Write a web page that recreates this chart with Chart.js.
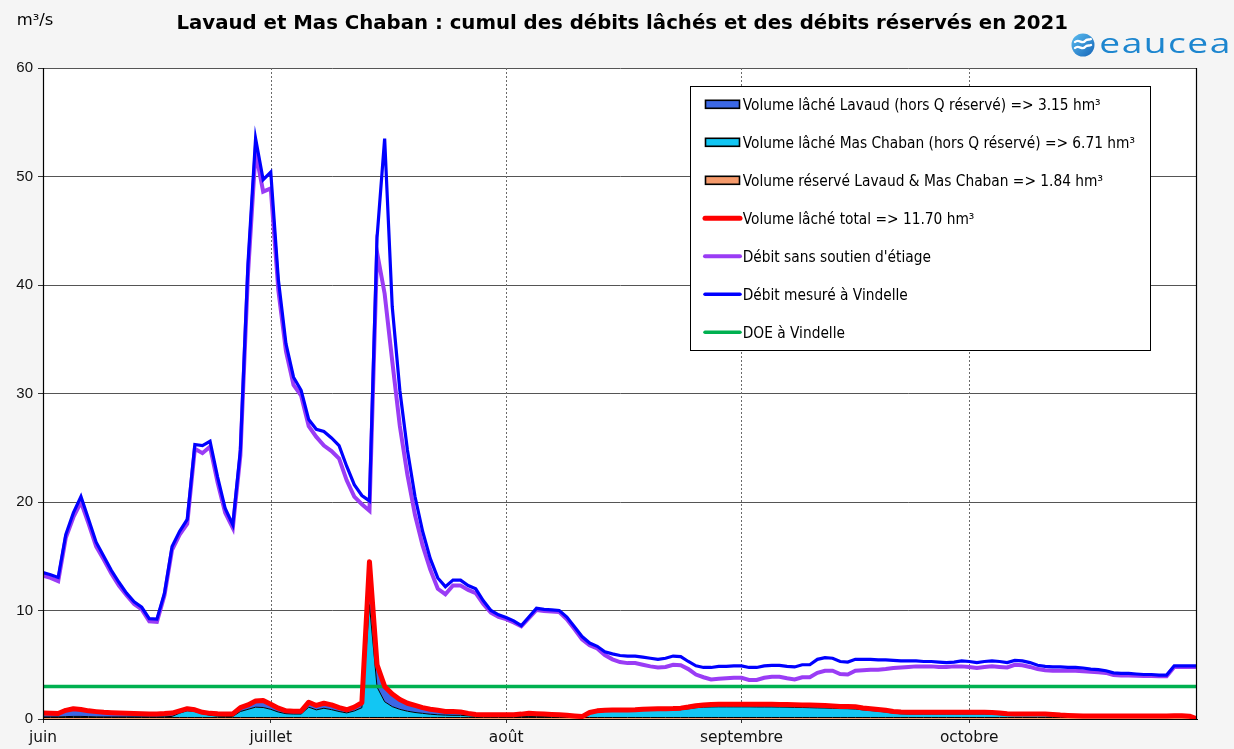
<!DOCTYPE html>
<html>
<head>
<meta charset="utf-8">
<script src="https://cdn.jsdelivr.net/npm/chart.js"></script>
<style>
html,body{margin:0;padding:0;background:#f5f5f5;}
#wrap{width:1234px;height:749px;position:relative;}
canvas{display:block;}
</style>
</head>
<body>
<div id="wrap"><canvas id="c"></canvas></div>
<script>
// ---------- DATA ----------
const monthTicks  = [0, 30, 61, 92, 122];          // day offsets from 1 June 2021
const monthLabels = ['juin', 'juillet', 'août', 'septembre', 'octobre'];
const lastDay = 152;                                // 31 October
const yMin = 0, yMax = 60, yStep = 10;
const doeVindelle = 3;

const debitMesure = [
  13.5, 13.3, 13.05, 17.0, 19.0, 20.5, 18.4, 16.3, 15.0, 13.7,
  12.6, 11.6, 10.8, 10.3, 9.25, 9.2, 11.6, 15.9, 17.3, 18.4,
  25.3, 25.2, 25.6, 22.3, 19.4, 17.9, 24.8, 42.0, 53.5, 49.7,
  50.4, 40.5, 34.6, 31.5, 30.3, 27.6, 26.7, 26.5, 25.9, 25.2,
  23.3, 21.6, 20.6, 20.1, 44.4, 53.5, 38.0, 30.3, 24.8, 20.5,
  17.3, 14.8, 13.0, 12.2, 12.8, 12.8, 12.3, 12.0, 10.9, 10.0,
  9.6, 9.35, 9.05, 8.6, 9.4, 10.2, 10.1, 10.05, 10.0, 9.4,
  8.5, 7.6, 7.0, 6.7, 6.2, 6.0, 5.85, 5.8, 5.8, 5.7,
  5.6, 5.5, 5.6, 5.8, 5.75, 5.3, 4.9, 4.75, 4.75, 4.85,
  4.85, 4.9, 4.9, 4.75, 4.75, 4.9, 4.95, 4.95, 4.85, 4.8,
  5.0, 5.0, 5.5, 5.65, 5.6, 5.3, 5.25, 5.5, 5.5, 5.5,
  5.45, 5.45, 5.4, 5.35, 5.35, 5.35, 5.3, 5.3, 5.25, 5.2,
  5.25, 5.35, 5.3, 5.2, 5.3, 5.35, 5.3, 5.2, 5.4, 5.35,
  5.2, 4.95, 4.85, 4.8, 4.8, 4.75, 4.75, 4.7, 4.6, 4.55,
  4.45, 4.25, 4.2, 4.2, 4.15, 4.1, 4.1, 4.05, 4.05, 4.9,
  4.9, 4.9, 4.9
];

const debitSansSoutien = [
  13.2, 13.0, 12.7, 16.7, 18.6, 20.0, 18.0, 15.9, 14.7, 13.4,
  12.3, 11.4, 10.6, 10.1, 9.0, 8.95, 11.4, 15.6, 17.0, 18.0,
  24.9, 24.5, 25.1, 21.8, 19.0, 17.6, 24.3, 41.0, 52.3, 48.6,
  48.9, 39.5, 33.9, 30.8, 29.8, 27.0, 26.0, 25.2, 24.7, 24.0,
  22.0, 20.5, 19.8, 19.2, 43.0, 39.2, 33.0, 27.0, 22.5, 18.8,
  16.0, 13.8, 12.0, 11.5, 12.3, 12.3, 11.9, 11.6, 10.6, 9.8,
  9.4, 9.2, 8.9, 8.55, 9.3, 10.05, 9.95, 9.9, 9.85, 9.2,
  8.3, 7.35, 6.8, 6.5, 5.9, 5.5, 5.25, 5.15, 5.15, 5.0,
  4.85, 4.75, 4.8, 5.0, 4.95, 4.6, 4.1, 3.85, 3.65, 3.7,
  3.75, 3.8, 3.8, 3.6, 3.6, 3.8, 3.9, 3.9, 3.75, 3.65,
  3.85, 3.85, 4.25, 4.45, 4.45, 4.15, 4.1, 4.45, 4.5, 4.55,
  4.55, 4.6, 4.7, 4.75, 4.8, 4.85, 4.85, 4.85, 4.8, 4.8,
  4.85, 4.85, 4.8, 4.7, 4.8, 4.85, 4.8, 4.75, 5.0, 4.95,
  4.8, 4.6, 4.5, 4.45, 4.45, 4.45, 4.45, 4.4, 4.35, 4.3,
  4.25, 4.05, 4.0, 4.0, 3.98, 3.96, 3.96, 3.95, 3.95, 4.8,
  4.8, 4.8, 4.8
];

const volumeTotal = [
  0.55, 0.52, 0.50, 0.80, 0.95, 0.88, 0.75, 0.68, 0.62, 0.58,
  0.55, 0.53, 0.50, 0.48, 0.47, 0.47, 0.50, 0.55, 0.75, 0.95,
  0.85, 0.62, 0.52, 0.48, 0.47, 0.47, 1.05, 1.30, 1.65, 1.70,
  1.35, 1.00, 0.75, 0.72, 0.72, 1.55, 1.25, 1.45, 1.30, 1.05,
  0.85, 1.10, 1.50, 14.50, 5.00, 3.00, 2.30, 1.80, 1.45, 1.25,
  1.05, 0.90, 0.80, 0.70, 0.68, 0.65, 0.52, 0.42, 0.40, 0.40,
  0.40, 0.40, 0.40, 0.45, 0.52, 0.48, 0.45, 0.42, 0.40, 0.35,
  0.28, 0.22, 0.60, 0.75, 0.80, 0.83, 0.83, 0.83, 0.85, 0.90,
  0.93, 0.94, 0.95, 0.96, 1.00, 1.10, 1.22, 1.30, 1.34, 1.35,
  1.36, 1.36, 1.36, 1.36, 1.35, 1.35, 1.35, 1.34, 1.33, 1.31,
  1.30, 1.28, 1.26, 1.24, 1.20, 1.16, 1.15, 1.12, 1.02, 0.95,
  0.88, 0.80, 0.70, 0.64, 0.62, 0.62, 0.62, 0.62, 0.62, 0.62,
  0.62, 0.62, 0.62, 0.62, 0.62, 0.60, 0.55, 0.49, 0.46, 0.46,
  0.46, 0.46, 0.45, 0.42, 0.36, 0.32, 0.29, 0.27, 0.27, 0.27,
  0.27, 0.27, 0.27, 0.27, 0.28, 0.28, 0.28, 0.28, 0.28, 0.30,
  0.30, 0.26, 0.00
];

const volumeReserve = [
  0.14, 0.14, 0.14, 0.14, 0.14, 0.14, 0.14, 0.14, 0.14, 0.14,
  0.14, 0.14, 0.14, 0.14, 0.14, 0.14, 0.14, 0.14, 0.14, 0.14,
  0.14, 0.14, 0.14, 0.14, 0.14, 0.14, 0.14, 0.14, 0.14, 0.14,
  0.14, 0.14, 0.14, 0.14, 0.14, 0.14, 0.14, 0.14, 0.14, 0.14,
  0.14, 0.14, 0.14, 0.14, 0.14, 0.14, 0.14, 0.14, 0.14, 0.14,
  0.14, 0.14, 0.14, 0.14, 0.14, 0.14, 0.14, 0.14, 0.14, 0.14,
  0.14, 0.14, 0.14, 0.14, 0.14, 0.14, 0.14, 0.14, 0.14, 0.14,
  0.14, 0.14, 0.14, 0.14, 0.14, 0.14, 0.14, 0.14, 0.14, 0.14,
  0.14, 0.14, 0.14, 0.14, 0.14, 0.14, 0.14, 0.14, 0.14, 0.14,
  0.14, 0.14, 0.14, 0.14, 0.14, 0.14, 0.14, 0.14, 0.14, 0.14,
  0.14, 0.14, 0.14, 0.14, 0.14, 0.14, 0.14, 0.14, 0.14, 0.14,
  0.14, 0.14, 0.14, 0.14, 0.14, 0.14, 0.14, 0.14, 0.14, 0.14,
  0.14, 0.14, 0.14, 0.14, 0.14, 0.14, 0.14, 0.14, 0.14, 0.14,
  0.14, 0.14, 0.14, 0.14, 0.14, 0.14, 0.14, 0.14, 0.14, 0.14,
  0.14, 0.14, 0.14, 0.14, 0.14, 0.14, 0.14, 0.14, 0.14, 0.14,
  0.14, 0.14, 0.00
];

const volumeMasChaban = [
  0.05, 0.05, 0.05, 0.08, 0.10, 0.10, 0.08, 0.06, 0.05, 0.05,
  0.05, 0.05, 0.05, 0.05, 0.05, 0.05, 0.06, 0.10, 0.40, 0.62,
  0.55, 0.35, 0.20, 0.12, 0.10, 0.10, 0.55, 0.75, 0.95, 0.92,
  0.75, 0.50, 0.35, 0.32, 0.32, 0.95, 0.70, 0.85, 0.72, 0.55,
  0.42, 0.60, 0.90, 10.40, 2.80, 1.45, 1.00, 0.75, 0.58, 0.46,
  0.38, 0.30, 0.25, 0.22, 0.20, 0.20, 0.15, 0.12, 0.10, 0.10,
  0.10, 0.10, 0.10, 0.10, 0.10, 0.10, 0.10, 0.10, 0.10, 0.10,
  0.10, 0.05, 0.35, 0.50, 0.55, 0.58, 0.58, 0.58, 0.60, 0.64,
  0.66, 0.67, 0.68, 0.69, 0.72, 0.80, 0.90, 0.95, 0.97, 0.98,
  0.98, 0.98, 0.98, 0.98, 0.97, 0.97, 0.97, 0.96, 0.95, 0.93,
  0.92, 0.90, 0.88, 0.87, 0.84, 0.82, 0.81, 0.78, 0.70, 0.64,
  0.58, 0.50, 0.40, 0.34, 0.32, 0.32, 0.32, 0.32, 0.32, 0.32,
  0.32, 0.32, 0.32, 0.32, 0.32, 0.30, 0.26, 0.20, 0.18, 0.18,
  0.18, 0.18, 0.17, 0.14, 0.10, 0.08, 0.06, 0.06, 0.06, 0.06,
  0.06, 0.06, 0.06, 0.06, 0.06, 0.06, 0.06, 0.06, 0.06, 0.06,
  0.06, 0.06, 0.00
];

const volumeLavaud = [
  0.36, 0.33, 0.31, 0.58, 0.71, 0.64, 0.53, 0.48, 0.43, 0.39,
  0.36, 0.34, 0.31, 0.29, 0.28, 0.28, 0.30, 0.31, 0.21, 0.19,
  0.16, 0.13, 0.18, 0.22, 0.23, 0.23, 0.36, 0.41, 0.56, 0.64,
  0.46, 0.36, 0.26, 0.26, 0.26, 0.46, 0.41, 0.46, 0.44, 0.36,
  0.29, 0.36, 0.46, 3.96, 2.06, 1.41, 1.16, 0.91, 0.73, 0.65,
  0.53, 0.46, 0.41, 0.34, 0.34, 0.31, 0.23, 0.16, 0.16, 0.16,
  0.16, 0.16, 0.16, 0.21, 0.28, 0.24, 0.21, 0.18, 0.16, 0.11,
  0.04, 0.03, 0.11, 0.11, 0.11, 0.11, 0.11, 0.11, 0.11, 0.12,
  0.13, 0.13, 0.13, 0.13, 0.14, 0.16, 0.18, 0.21, 0.23, 0.23,
  0.24, 0.24, 0.24, 0.24, 0.24, 0.24, 0.24, 0.24, 0.24, 0.24,
  0.24, 0.24, 0.24, 0.23, 0.22, 0.20, 0.20, 0.20, 0.18, 0.17,
  0.16, 0.16, 0.16, 0.16, 0.16, 0.16, 0.16, 0.16, 0.16, 0.16,
  0.16, 0.16, 0.16, 0.16, 0.16, 0.16, 0.15, 0.15, 0.14, 0.14,
  0.14, 0.14, 0.14, 0.14, 0.12, 0.10, 0.09, 0.07, 0.07, 0.07,
  0.07, 0.07, 0.07, 0.07, 0.08, 0.08, 0.08, 0.08, 0.08, 0.10,
  0.10, 0.06, 0.00
];

const titleText = 'Lavaud et Mas Chaban : cumul des débits lâchés et des débits réservés en 2021';
const unitText = 'm³/s';
const logoText = 'eaucea';
const legendLabels = [
  'Volume lâché Lavaud (hors Q réservé) => 3.15 hm³',
  'Volume lâché Mas Chaban (hors Q réservé) => 6.71 hm³',
  'Volume réservé Lavaud & Mas Chaban => 1.84 hm³',
  'Volume lâché total => 11.70 hm³',
  'Débit sans soutien d\'étiage',
  'Débit mesuré à Vindelle',
  'DOE à Vindelle'
];

// ---------- STYLES ----------
const C = {
  lavaud: '#3b68e6', chaban: '#12c6f3', reserve: '#f59a6b',
  total: '#ff0000', sans: '#9a3cf5', mesure: '#0000ff', doe: '#00b050'
};

const days = debitMesure.map((_, i) => i);
const pts = arr => arr.map((v, i) => ({ x: days[i], y: v }));

const legendItems = [
  { type: 'box',  color: C.lavaud },
  { type: 'box',  color: C.chaban },
  { type: 'box',  color: C.reserve },
  { type: 'line', color: C.total, width: 5 },
  { type: 'line', color: C.sans, width: 4 },
  { type: 'line', color: C.mesure, width: 3.5 },
  { type: 'line', color: C.doe, width: 3.5 }
];

function drawFitted(ctx, text, x, y, targetW) {
  const w = ctx.measureText(text).width;
  ctx.save();
  ctx.translate(x, y);
  ctx.scale(targetW / w, 1);
  ctx.fillText(text, 0, 0);
  ctx.restore();
}

const deco = {
  id: 'deco',
  beforeDraw(chart) {
    const { ctx, chartArea: a } = chart;
    ctx.save();
    ctx.fillStyle = '#f5f5f5';
    ctx.fillRect(0, 0, chart.width, chart.height);
    ctx.fillStyle = '#ffffff';
    ctx.fillRect(a.left, a.top, a.right - a.left, a.bottom - a.top);
    ctx.restore();
  },
  beforeDatasetsDraw(chart) {
    const { ctx, chartArea: a, scales: { x } } = chart;
    ctx.save();
    ctx.strokeStyle = '#6a6a6a';
    ctx.lineWidth = 1;
    ctx.setLineDash([2, 2]);
    monthTicks.forEach(v => {
      if (v === x.min) return;
      const px = Math.round(x.getPixelForValue(v)) + 0.5;
      ctx.beginPath(); ctx.moveTo(px, a.top); ctx.lineTo(px, a.bottom); ctx.stroke();
    });
    ctx.restore();
  },
  afterDatasetsDraw(chart) {
    const { ctx, chartArea: a } = chart;
    ctx.save();
    ctx.strokeStyle = '#000';
    ctx.lineWidth = 1.2;
    ctx.beginPath();
    ctx.moveTo(a.left + 0.5, a.top); ctx.lineTo(a.left + 0.5, a.bottom);
    ctx.moveTo(a.right - 0.5, a.top); ctx.lineTo(a.right - 0.5, a.bottom);
    ctx.moveTo(a.left, a.bottom + 0.5); ctx.lineTo(a.right, a.bottom + 0.5);
    ctx.stroke();
    ctx.restore();
  },
  afterDraw(chart) {
    const ctx = chart.ctx;
    ctx.save();
    // title
    ctx.fillStyle = '#000';
    ctx.textBaseline = 'alphabetic';
    ctx.textAlign = 'left';
    ctx.font = 'bold 19.5px "DejaVu Sans", sans-serif';
    drawFitted(ctx, titleText, 176.5, 29.3, 891.5);
    // unit
    ctx.font = '16px "DejaVu Sans", sans-serif';
    drawFitted(ctx, unitText, 16.7, 25, 36.6);

    // logo
    const cx = 1083, cy = 45, r = 11.5;
    const g = ctx.createLinearGradient(cx - r, cy - r, cx + r, cy + r);
    g.addColorStop(0, '#5bbdf0'); g.addColorStop(1, '#1565b8');
    ctx.fillStyle = g;
    ctx.beginPath(); ctx.arc(cx, cy, r, 0, Math.PI * 2); ctx.fill();
    ctx.save();
    ctx.beginPath(); ctx.arc(cx, cy, r - 0.5, 0, Math.PI * 2); ctx.clip();
    ctx.strokeStyle = '#ffffff'; ctx.lineWidth = 2.4; ctx.lineCap = 'round';
    [-3, 3].forEach(dy => {
      ctx.beginPath();
      ctx.moveTo(cx - 8, cy + dy);
      ctx.bezierCurveTo(cx - 4, cy + dy - 4, cx - 1, cy + dy + 3, cx + 2, cy + dy - 1);
      ctx.bezierCurveTo(cx + 4, cy + dy - 3, cx + 6, cy + dy - 2, cx + 8, cy + dy - 3);
      ctx.stroke();
    });
    ctx.restore();
    ctx.fillStyle = '#1d86cf';
    ctx.font = '28px "Open Sans", "DejaVu Sans", sans-serif';
    {
      const chars = logoText.split('');
      const natural = chars.reduce((s, ch) => s + ctx.measureText(ch).width, 0);
      const gapBase = 1.5;
      const sx = (131 - gapBase * (chars.length - 1)) / natural;
      let px = 1099.3;
      chars.forEach(ch => {
        const w = ctx.measureText(ch).width * sx;
        ctx.save(); ctx.translate(px, 53.3); ctx.scale(sx, 1); ctx.fillText(ch, 0, 0); ctx.restore();
        px += w + gapBase;
      });
    }

    // legend
    const L = { x: 690.5, y: 86.5, w: 460, h: 264 };
    ctx.fillStyle = '#ffffff';
    ctx.fillRect(L.x, L.y, L.w, L.h);
    ctx.strokeStyle = '#000'; ctx.lineWidth = 1;
    ctx.strokeRect(L.x, L.y, L.w, L.h);
    ctx.font = '16px "DejaVu Sans", sans-serif';
    const k = 392.3 / ctx.measureText(legendLabels[1]).width;
    legendLabels.forEach((lab, i) => {
      const it = legendItems[i];
      const yc = 104.3 + 38 * i;
      if (it.type === 'box') {
        ctx.fillStyle = it.color;
        ctx.fillRect(705.5, yc - 4, 34, 8);
        ctx.strokeStyle = '#000'; ctx.lineWidth = 1.6;
        ctx.strokeRect(705.5, yc - 4, 34, 8);
      } else {
        ctx.strokeStyle = it.color; ctx.lineWidth = it.width; ctx.lineCap = 'round';
        ctx.beginPath(); ctx.moveTo(705, yc); ctx.lineTo(740, yc); ctx.stroke();
      }
      ctx.fillStyle = '#000';
      const w = ctx.measureText(lab).width * k;
      drawFitted(ctx, lab, 742.7, yc + 5.8, w);
    });
    ctx.restore();
  }
};

new Chart(document.getElementById('c'), {
  type: 'line',
  data: {
    datasets: [
      { label: legendLabels[3], data: pts(volumeTotal), stack: 's_total', borderColor: C.total, borderWidth: 5, fill: false, pointRadius: 0, borderJoinStyle: 'round' },
      { label: legendLabels[5], data: pts(debitMesure), stack: 's_mes', borderColor: C.mesure, borderWidth: 3.2, fill: false, pointRadius: 0 },
      { label: legendLabels[4], data: pts(debitSansSoutien), stack: 's_sans', borderColor: C.sans, borderWidth: 4, fill: false, pointRadius: 0 },
      { label: legendLabels[6], data: [{ x: days[0], y: doeVindelle }, { x: days[days.length - 1], y: doeVindelle }], stack: 's_doe', borderColor: C.doe, borderWidth: 3.5, fill: false, pointRadius: 0 },
      { label: legendLabels[2], data: pts(volumeReserve), stack: 'vol', borderColor: '#000', borderWidth: 1, backgroundColor: C.reserve, fill: 'origin', pointRadius: 0 },
      { label: legendLabels[1], data: pts(volumeMasChaban), stack: 'vol', borderColor: '#000', borderWidth: 1, backgroundColor: C.chaban, fill: '-1', pointRadius: 0 },
      { label: legendLabels[0], data: pts(volumeLavaud), stack: 'vol', borderColor: '#000', borderWidth: 1, backgroundColor: C.lavaud, fill: '-1', pointRadius: 0 }
    ]
  },
  options: {
    responsive: true,
    maintainAspectRatio: false,
    devicePixelRatio: 1,
    animation: false,
    events: [],
    layout: { padding: { top: 68, right: 37, left: 0, bottom: 0 } },
    plugins: { legend: { display: false }, title: { display: false }, tooltip: { enabled: false } },
    elements: { line: { tension: 0 } },
    scales: {
      x: {
        type: 'linear', min: days[0], max: lastDay,
        afterBuildTicks: s => { s.ticks = monthTicks.map(v => ({ value: v })); },
        afterFit: s => { s.height = 30; },
        grid: { display: true, drawOnChartArea: false, drawTicks: true, tickLength: 4, tickColor: '#333', color: '#333' },
        border: { display: true, color: '#000', width: 1 },
        ticks: {
          autoSkip: false, maxRotation: 0, padding: 6, color: '#111',
          font: { family: '"DejaVu Sans", sans-serif', size: 15.4 },
          callback: (v, i) => monthLabels[i]
        }
      },
      y: {
        stacked: true, min: yMin, max: yMax,
        afterFit: s => { s.width = 43; },
        grid: { color: '#555', lineWidth: 1, drawTicks: true, tickLength: 5, tickColor: '#333' },
        border: { display: true, color: '#000', width: 1 },
        ticks: { stepSize: yStep, padding: 5, color: '#111', font: { family: '"Liberation Sans", sans-serif', size: 15 } }
      }
    }
  },
  plugins: [deco]
});
</script>
</body>
</html>
